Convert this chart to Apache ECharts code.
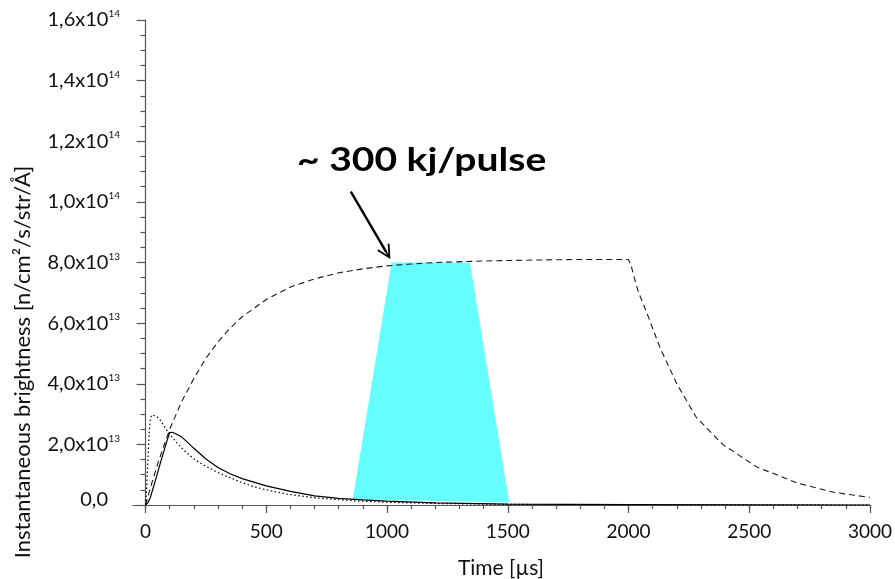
<!DOCTYPE html>
<html><head><meta charset="utf-8">
<script src="https://cdn.jsdelivr.net/npm/echarts@6/dist/echarts.min.js"></script>
<style>html,body{margin:0;padding:0;background:#fff}#c{width:895px;height:579px}</style>
</head><body><div id="c"></div>
<script>
// values in units of 1e13 n/cm²/s/str/Å, time in µs
const dashedTime  = [0, 25, 50, 75, 100, 150, 200, 250, 300, 350, 400, 500, 600, 700, 800, 900, 1000, 1100, 1200, 1400, 1600, 1800, 2000, 2010, 2020, 2040, 2075, 2130, 2200, 2280, 2390, 2530, 2700, 2850, 3000];
const dashedValue = [0, 0.70, 1.35, 1.93, 2.50, 3.42, 4.17, 4.84, 5.38, 5.83, 6.21, 6.78, 7.19, 7.46, 7.66, 7.79, 7.89, 7.95, 8.00, 8.05, 8.08, 8.10, 8.10, 7.92, 7.62, 7.05, 6.36, 5.2, 4.0, 2.9, 2.0, 1.26, 0.72, 0.42, 0.25];

const solidTime  = [0, 10, 20, 30, 45, 60, 75, 90, 100, 110, 123, 150, 171, 200, 250, 300, 350, 400, 500, 600, 700, 800, 900, 1000, 1200, 1500, 2000, 3000];
const solidValue = [0, 0.08, 0.25, 0.52, 0.93, 1.35, 1.75, 2.15, 2.39, 2.40, 2.36, 2.24, 2.09, 1.87, 1.52, 1.24, 1.03, 0.87, 0.63, 0.45, 0.30, 0.22, 0.17, 0.13, 0.07, 0.03, 0.01, 0];

const dottedTime  = [0, 3, 6, 9, 12, 16, 20, 26, 33, 45, 61, 80, 102, 130, 157, 200, 240, 300, 340, 400, 450, 500, 585, 650, 723, 861, 1000, 1200, 1500, 2000, 3000];
const dottedValue = [0, 0.35, 0.82, 1.35, 1.90, 2.50, 2.86, 2.97, 3.00, 2.93, 2.80, 2.56, 2.31, 2.05, 1.82, 1.52, 1.32, 1.07, 0.93, 0.74, 0.60, 0.50, 0.36, 0.29, 0.22, 0.14, 0.09, 0.05, 0.02, 0.005, 0];

const pulseTime  = [858, 1019, 1343, 1506];
const pulseValue = [0.19, 8.0, 8.0, 0.08];

const arrowTime  = [850, 997];
const arrowValue = [10.34, 8.34];

const xTicks = [0, 500, 1000, 1500, 2000, 2500, 3000];
const xMinorTicks = [0,100,200,300,400,500,600,700,800,900,1000,1100,1200,1300,1400,1500,1600,1700,1800,1900,2000,2100,2200,2300,2400,2500,2600,2700,2800,2900,3000];
const yTickValues = [0, 2, 4, 6, 8, 10, 12, 14, 16];
const yTickMantissa = ['0,0', '2,0', '4,0', '6,0', '8,0', '1,0', '1,2', '1,4', '1,6'];
const yTickExponent = ['', '13', '13', '13', '13', '14', '14', '14', '14'];

const annotationText = '~ 300 kj/pulse';
const yTitle = 'Instantaneous brightness [n/cm²/s/str/Å]';
const xTitle = 'Time [µs]';

const FONT = 'Lato';
const AXIS = '#555';
const TXT = '#111';

const pairs = (t, v) => t.map((x, i) => [x, v[i]]);

const chart = echarts.init(document.getElementById('c'), null, {renderer: 'canvas'});
chart.setOption({
  animation: false,
  backgroundColor: '#fff',
  grid: {left: 133, right: 24, top: 20, bottom: 74, containLabel: false},
  xAxis: [{
    type: 'value', min: -52, max: 3000, position: 'bottom',
    axisLine: {show: true, onZero: false, lineStyle: {color: AXIS, width: 1.2}},
    axisTick: {show: true, customValues: xTicks, length: 8, lineStyle: {color: AXIS, width: 1.2}},
    axisLabel: {show: true, customValues: xTicks, margin: 17, fontFamily: FONT, fontSize: 19, color: TXT,
      formatter: function (v) { return String(v); }},
    splitLine: {show: false}
  }, {
    type: 'value', min: -52, max: 3000, position: 'bottom',
    axisLine: {show: false},
    axisTick: {show: true, customValues: xMinorTicks, length: 4, lineStyle: {color: AXIS, width: 1.2}},
    axisLabel: {show: false},
    splitLine: {show: false}
  }],
  yAxis: {
    type: 'value', min: 0, max: 16, interval: 2,
    axisLine: {show: true, lineStyle: {color: AXIS, width: 1.2}},
    axisTick: {show: true, length: 9, lineStyle: {color: AXIS, width: 1.2}},
    minorTick: {show: true, splitNumber: 4, length: 5, lineStyle: {color: AXIS, width: 1.2}},
    splitLine: {show: false},
    minorSplitLine: {show: false},
    axisLabel: {
      margin: 13,
      formatter: function (v) {
        const i = yTickValues.indexOf(v);
        if (i < 0) return '';
        if (!yTickExponent[i]) return '{z|' + yTickMantissa[i] + '}';
        return '{a|' + yTickMantissa[i] + 'x10}{s|' + yTickExponent[i] + '}';
      },
      rich: {
        a: {fontFamily: FONT, fontSize: 20, color: TXT, lineHeight: 22},
        z: {fontFamily: FONT, fontSize: 20, color: TXT, lineHeight: 22, padding: [0, 12, 10, 0]},
        s: {fontFamily: FONT, fontSize: 10, color: TXT, lineHeight: 10, verticalAlign: 'top'}
      }
    }
  },
  series: [{
    type: 'custom',
    z: 1,
    silent: true,
    data: pairs(pulseTime, pulseValue),
    renderItem: function (params, api) {
      if (params.dataIndex !== 0) return null;
      const pts = pulseTime.map((t, i) => api.coord([t, pulseValue[i]]));
      return {type: 'polygon', shape: {points: pts}, style: {fill: '#66ffff', stroke: null}};
    }
  }, {
    type: 'line', z: 3, symbol: 'none', silent: true,
    data: pairs(dashedTime, dashedValue),
    lineStyle: {color: '#1a1a1a', width: 1.1, type: [6, 4]},
    markLine: {
      silent: true,
      symbol: ['none', 'path://M0,0 L10,17 L8,18.5 L1,6.5 L1,20 L-1,20 L-1,6.5 L-8,18.5 L-10,17 Z'],
      symbolSize: [14, 16],
      label: {show: false},
      lineStyle: {color: '#000', width: 2.4, type: 'solid'},
      data: [[{coord: [arrowTime[0], arrowValue[0]]}, {coord: [arrowTime[1], arrowValue[1]]}]]
    }
  }, {
    type: 'line', z: 3, symbol: 'none', silent: true,
    data: pairs(solidTime, solidValue),
    lineStyle: {color: '#000', width: 1.2, type: 'solid'}
  }, {
    type: 'line', z: 3, symbol: 'none', silent: true,
    data: pairs(dottedTime, dottedValue),
    lineStyle: {color: '#000', width: 1.2, type: [1.5, 2.5]}
  }],
  graphic: [{
    type: 'text', x: 23, y: 362, rotation: Math.PI / 2, silent: true,
    style: {text: yTitle, font: '22px Lato', fill: TXT, align: 'center', verticalAlign: 'middle', textAlign: 'center', textVerticalAlign: 'middle'}
  }, {
    type: 'text', x: 501, y: 568, silent: true,
    style: {text: xTitle, font: '21px Lato', fill: TXT, align: 'center', verticalAlign: 'middle', textAlign: 'center', textVerticalAlign: 'middle'}
  }, {
    type: 'text', x: 297, y: 161, scaleX: 1.22, silent: true,
    style: {text: annotationText, font: 'bold 32px Lato', fill: '#000', align: 'left', verticalAlign: 'middle', textAlign: 'left', textVerticalAlign: 'middle'}
  }]
});
</script>
</body></html>
